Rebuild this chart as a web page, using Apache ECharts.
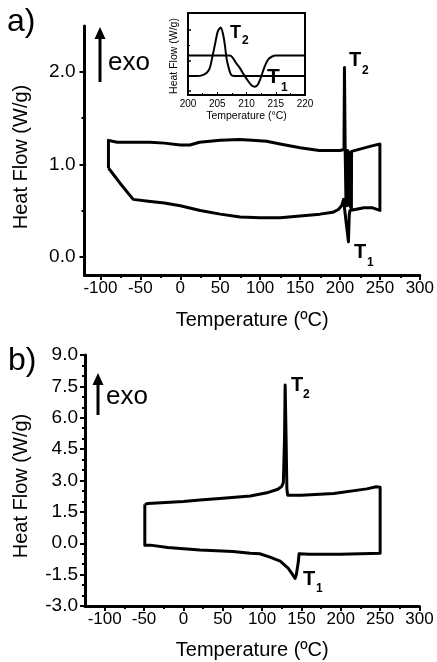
<!DOCTYPE html>
<html><head><meta charset="utf-8">
<script src="https://cdn.jsdelivr.net/npm/echarts@6/dist/echarts.min.js"></script>
<style>html,body{margin:0;padding:0;background:#fff}#c{width:437px;height:662px}</style>
</head><body><div id="c"></div>
<script>
// ---------- Panel a : DSC cycle ----------
const aTemp = [-90, -75, -59, -40, -20, 0, 25, 50, 75, 100, 125, 150, 175, 191, 198, 202, 204.5, 206, 208, 210.6, 211.6, 212.5, 214.5, 230, 240, 250,
               250, 240, 214.5, 214.3, 212.5, 211.8, 209.5, 208.8, 207.5, 206.5, 205.6, 205, 200, 174, 150, 125, 108, 90, 74, 50, 24, 12, 0, -20, -38, -79, -85, -90, -90];
const aHeat = [0.96, 0.79, 0.62, 0.60, 0.58, 0.55, 0.50, 0.46, 0.43, 0.42, 0.42, 0.44, 0.46, 0.48, 0.51, 0.55, 0.62, 0.50, 0.35, 0.16, 0.45, 0.50, 0.51, 0.53, 0.53, 0.50,
               1.22, 1.20, 1.14, 0.52, 0.55, 1.12, 1.15, 0.55, 0.60, 1.15, 2.05, 1.16, 1.15, 1.15, 1.18, 1.22, 1.25, 1.26, 1.27, 1.26, 1.24, 1.21, 1.21, 1.23, 1.24, 1.24, 1.25, 1.26, 0.96];
// ---------- Inset (arbitrary heat-flow units) ----------
const insetTempPeak = [200, 201.5, 202.5, 203.2, 203.7, 204.2, 204.6, 205.1, 205.6, 206.0, 206.3, 206.6, 206.9, 207.2, 207.6, 210, 215, 220];
const insetPeak     = [0.49, 0.49, 0.52, 0.60, 0.74, 1.15, 1.51, 1.95, 2.08, 1.85, 1.51, 1.05, 0.80, 0.60, 0.50, 0.49, 0.49, 0.49];
const insetTempDip  = [200, 205, 207.1, 207.6, 208.2, 208.9, 209.6, 210.3, 210.9, 211.4, 211.9, 212.3, 213.1, 213.7, 214.3, 215, 220];
const insetDip      = [1.16, 1.16, 1.16, 1.10, 0.92, 0.74, 0.52, 0.32, 0.18, 0.14, 0.20, 0.36, 0.80, 1.03, 1.12, 1.16, 1.16];
// ---------- Panel b ----------
const bTemp = [-49, -45, 0, 21, 50, 85, 106, 120, 125, 127, 128.5, 129.3, 130.5, 131.5, 132.5, 150, 191, 233, 245, 250,
               250, 200, 160, 147, 146, 143.5, 142, 138, 133, 123, 110, 97, 85, 63, 21, -20, -42, -49, -49];
const bHeat = [1.86, 1.90, 2.00, 2.07, 2.15, 2.26, 2.41, 2.58, 2.72, 2.90, 5.00, 7.56, 5.00, 2.60, 2.30, 2.30, 2.38, 2.60, 2.70, 2.68,
               -0.48, -0.52, -0.52, -0.50, -0.90, -1.50, -1.68, -1.45, -1.19, -0.85, -0.66, -0.50, -0.48, -0.40, -0.32, -0.20, -0.09, -0.09, 1.86];
// ---------- Tick labels ----------
const xMajor = [-100, -50, 0, 50, 100, 150, 200, 250, 300];
const xMinor = [-75, -25, 25, 75, 125, 175, 225, 275];
const aYMajor = [0, 1, 2];
const aYMinor = [0.5, 1.5];
const insetYMajor = [0, 1, 2];
const insetYMinor = [0.5, 1.5];

const zip = (xs, ys) => xs.map((x, i) => [x, ys[i]]);
const FONT = 'Liberation Sans, Arial, sans-serif';
const BLK = '#000';

const gA = {left: 84.5, top: 26, width: 336, height: 249};
const gIn = {left: 188, top: 13, width: 117, height: 82};
const gB = {left: 85, top: 355, width: 334.5, height: 251};

function line(w, show) { return {show: show !== false, onZero: false, lineStyle: {color: BLK, width: w}}; }

function mainX(grid, min, name, nameGap) {
  return {gridIndex: grid, type: 'value', min: min, max: 300,
    axisLine: line(3),
    axisTick: {show: true, inside: false, length: 5, customValues: xMajor, lineStyle: {color: BLK, width: 2}},
    axisLabel: {show: true, customValues: xMajor, margin: 5, color: BLK, fontSize: 17, fontFamily: FONT},
    splitLine: {show: false},
    name: name, nameLocation: 'middle', nameGap: nameGap,
    nameTextStyle: {color: BLK, fontSize: 20, fontFamily: FONT}};
}
function minorX(grid, min) {
  return {gridIndex: grid, type: 'value', min: min, max: 300,
    axisLine: line(1, false), axisLabel: {show: false}, splitLine: {show: false},
    axisTick: {show: true, inside: false, length: 3, customValues: xMinor, lineStyle: {color: BLK, width: 2}}};
}

const option = {
  animation: false,
  backgroundColor: '#fff',
  textStyle: {fontFamily: FONT},
  grid: [
    Object.assign({}, gA), Object.assign({}, gA),
    Object.assign({}, gIn), Object.assign({}, gIn),
    Object.assign({}, gB), Object.assign({}, gB)
  ],
  xAxis: [
    mainX(0, -120, 'Temperature (ºC)', 35),
    minorX(1, -120),
    {gridIndex: 2, type: 'value', min: 200, max: 220, interval: 5, position: 'bottom',
      axisLine: line(2),
      axisTick: {show: true, inside: true, length: 3, lineStyle: {color: BLK, width: 1}},
      minorTick: {show: true, splitNumber: 2, length: 2, lineStyle: {color: BLK, width: 1}},
      axisLabel: {color: BLK, fontSize: 10, margin: 4, fontFamily: FONT},
      splitLine: {show: false},
      name: 'Temperature (°C)', nameLocation: 'middle', nameGap: 16,
      nameTextStyle: {color: BLK, fontSize: 10.5, fontFamily: FONT}},
    {gridIndex: 2, type: 'value', min: 200, max: 220, position: 'top',
      axisLine: line(2),
      axisTick: {show: false}, axisLabel: {show: false}, splitLine: {show: false}},
    {gridIndex: 3, type: 'value', min: 200, max: 220, show: false},
    mainX(4, -125, 'Temperature (ºC)', 34),
    minorX(5, -125)
  ],
  yAxis: [
    {gridIndex: 0, type: 'value', min: -0.2, max: 2.5,
      axisLine: line(3),
      axisTick: {show: true, length: 5, customValues: aYMajor, lineStyle: {color: BLK, width: 2}},
      axisLabel: {customValues: aYMajor, margin: 9, color: BLK, fontSize: 19, fontFamily: FONT,
        formatter: v => v.toFixed(1)},
      splitLine: {show: false}},
    {gridIndex: 1, type: 'value', min: -0.2, max: 2.5,
      axisLine: line(1, false), axisLabel: {show: false}, splitLine: {show: false},
      axisTick: {show: true, length: 3, customValues: aYMinor, lineStyle: {color: BLK, width: 2}}},
    {gridIndex: 2, type: 'value', min: -0.13, max: 2.55, position: 'left',
      axisLine: line(2),
      axisTick: {show: true, inside: true, length: 3, customValues: insetYMajor, lineStyle: {color: BLK, width: 1.5}},
      axisLabel: {show: false}, splitLine: {show: false}},
    {gridIndex: 2, type: 'value', min: -0.13, max: 2.55, position: 'right',
      axisLine: line(2),
      axisTick: {show: false}, axisLabel: {show: false}, splitLine: {show: false}},
    {gridIndex: 3, type: 'value', min: -0.13, max: 2.55,
      axisLine: line(1, false), axisLabel: {show: false}, splitLine: {show: false},
      axisTick: {show: true, inside: true, length: 2, customValues: insetYMinor, lineStyle: {color: BLK, width: 1}}},
    {gridIndex: 4, type: 'value', min: -3, max: 9, interval: 1.5,
      axisLine: line(3),
      axisTick: {show: true, length: 5, lineStyle: {color: BLK, width: 2}},
      minorTick: {show: true, splitNumber: 3, length: 3, lineStyle: {color: BLK, width: 2}},
      axisLabel: {margin: 7, color: BLK, fontSize: 19, fontFamily: FONT, formatter: v => v.toFixed(1)},
      splitLine: {show: false}},
    {gridIndex: 5, type: 'value', min: -3, max: 9, show: false}
  ],
  series: [
    {type: 'line', xAxisIndex: 0, yAxisIndex: 0, data: zip(aTemp, aHeat), symbol: 'none',
      lineStyle: {color: BLK, width: 3, join: 'round'}},
    {type: 'line', xAxisIndex: 2, yAxisIndex: 2, data: zip(insetTempPeak, insetPeak), symbol: 'none', smooth: 0.3,
      lineStyle: {color: BLK, width: 2}},
    {type: 'line', xAxisIndex: 2, yAxisIndex: 2, data: zip(insetTempDip, insetDip), symbol: 'none', smooth: 0.3,
      lineStyle: {color: BLK, width: 2}},
    {type: 'line', xAxisIndex: 5, yAxisIndex: 5, data: zip(bTemp, bHeat), symbol: 'none',
      lineStyle: {color: BLK, width: 3, join: 'round'}}
  ],
  graphic: [
    {type: 'text', x: 7, y: 6, style: {text: 'a)', fontSize: 32, fontFamily: FONT, fill: BLK}},
    {type: 'text', x: 8, y: 345, style: {text: 'b)', fontSize: 32, fontFamily: FONT, fill: BLK}},
    {type: 'text', x: 21, y: 157, rotation: Math.PI / 2,
      style: {text: 'Heat Flow (W/g)', fontSize: 20, fontFamily: FONT, fill: BLK, align: 'center', verticalAlign: 'middle'}},
    {type: 'text', x: 21, y: 486, rotation: Math.PI / 2,
      style: {text: 'Heat Flow (W/g)', fontSize: 20, fontFamily: FONT, fill: BLK, align: 'center', verticalAlign: 'middle'}},
    {type: 'text', x: 174, y: 56, rotation: Math.PI / 2,
      style: {text: 'Heat Flow (W/g)', fontSize: 10.5, fontFamily: FONT, fill: BLK, align: 'center', verticalAlign: 'middle'}},
    {type: 'line', shape: {x1: 100, y1: 82, x2: 100, y2: 36}, style: {stroke: BLK, lineWidth: 3}},
    {type: 'polygon', shape: {points: [[94.5, 39], [100, 27], [105.5, 39]]}, style: {fill: BLK}},
    {type: 'text', x: 108, y: 63, style: {text: 'exo', fontSize: 26, fontFamily: FONT, fill: BLK, verticalAlign: 'middle'}},
    {type: 'line', shape: {x1: 98, y1: 415, x2: 98, y2: 382}, style: {stroke: BLK, lineWidth: 3}},
    {type: 'polygon', shape: {points: [[92.5, 385], [98, 373], [103.5, 385]]}, style: {fill: BLK}},
    {type: 'text', x: 106, y: 397, style: {text: 'exo', fontSize: 26, fontFamily: FONT, fill: BLK, verticalAlign: 'middle'}},
    {type: 'text', x: 349, y: 50, style: {text: 'T', fontSize: 20, fontWeight: 'bold', fontFamily: FONT, fill: BLK}},
    {type: 'text', x: 362, y: 65, style: {text: '2', fontSize: 12, fontWeight: 'bold', fontFamily: FONT, fill: BLK}},
    {type: 'text', x: 354, y: 242, style: {text: 'T', fontSize: 20, fontWeight: 'bold', fontFamily: FONT, fill: BLK}},
    {type: 'text', x: 367, y: 257, style: {text: '1', fontSize: 12, fontWeight: 'bold', fontFamily: FONT, fill: BLK}},
    {type: 'text', x: 230, y: 24, style: {text: 'T', fontSize: 18, fontWeight: 'bold', fontFamily: FONT, fill: BLK}},
    {type: 'text', x: 242, y: 35, style: {text: '2', fontSize: 12, fontWeight: 'bold', fontFamily: FONT, fill: BLK}},
    {type: 'text', x: 267, y: 67, style: {text: 'T', fontSize: 21, fontWeight: 'bold', fontFamily: FONT, fill: BLK}},
    {type: 'text', x: 281, y: 82, style: {text: '1', fontSize: 12, fontWeight: 'bold', fontFamily: FONT, fill: BLK}},
    {type: 'text', x: 291, y: 375, style: {text: 'T', fontSize: 20, fontWeight: 'bold', fontFamily: FONT, fill: BLK}},
    {type: 'text', x: 303, y: 389, style: {text: '2', fontSize: 12, fontWeight: 'bold', fontFamily: FONT, fill: BLK}},
    {type: 'text', x: 303, y: 569, style: {text: 'T', fontSize: 20, fontWeight: 'bold', fontFamily: FONT, fill: BLK}},
    {type: 'text', x: 316, y: 583, style: {text: '1', fontSize: 12, fontWeight: 'bold', fontFamily: FONT, fill: BLK}}
  ]
};
const chart = echarts.init(document.getElementById('c'), null, {renderer: 'canvas'});
chart.setOption(option);
</script></body></html>
